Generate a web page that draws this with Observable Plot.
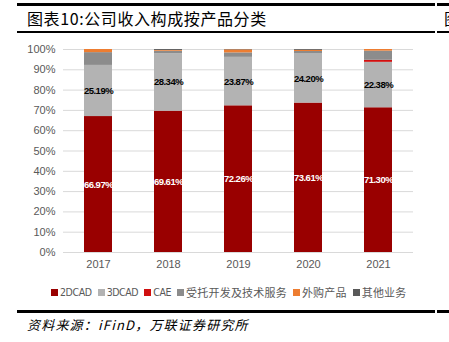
<!DOCTYPE html>
<html>
<head>
<meta charset="utf-8">
<script src="https://cdn.jsdelivr.net/npm/d3@7"></script>
<script src="https://cdn.jsdelivr.net/npm/@observablehq/plot@0.6"></script>
<style>
  html, body { margin: 0; padding: 0; background: #fff; }
  body { width: 449px; height: 342px; position: relative; overflow: hidden; font-family: "Noto Sans CJK SC", sans-serif; }
  .hline { position: absolute; left: 17px; width: 418px; background: #000; }
  .hline2 { position: absolute; left: 437px; width: 12px; background: #000; }
  #title { position: absolute; left: 27px; top: 6px; font-size: 16px; letter-spacing: 0.6px; color: #000; white-space: nowrap; }
  #caption { position: absolute; left: 27px; top: 315px; font-size: 13px; font-style: italic; letter-spacing: 1.2px; color: #000; white-space: nowrap; }
  #legend { position: absolute; left: 51px; top: 284px; display: flex; align-items: center; font-size: 11px; color: #595959; white-space: nowrap; }
  #legend .item { display: flex; align-items: center; margin-right: 6px; }
  #legend .sw { width: 7px; height: 7px; margin-right: 2px; }
  #legend .lat { font-family: "DejaVu Sans Condensed", "DejaVu Sans", sans-serif; font-stretch: condensed; font-size: 10.5px; letter-spacing: -0.4px; }
  #legend .cjk { font-size: 11px; letter-spacing: 0.2px; }
  #chart { position: absolute; left: 0; top: 0; }
</style>
</head>
<body>
<div class="hline" style="top:3px;height:2.5px"></div>
<div class="hline2" style="top:3px;height:2.5px"></div>
<div id="title">图表10:公司收入构成按产品分类</div>
<div style="position:absolute;left:444px;top:6px;font-size:16px;">图</div>
<div class="hline" style="top:31px;height:2px"></div>
<div class="hline2" style="top:31px;height:2px"></div>
<div id="chart"></div>
<div id="legend"></div>
<div class="hline" style="top:310px;height:2.5px"></div>
<div class="hline2" style="top:310px;height:2.5px"></div>
<div id="caption">资料来源：iFinD，万联证券研究所</div>
<script>
const years = ["2017", "2018", "2019", "2020", "2021"];
const seriesNames = ["2DCAD", "3DCAD", "CAE", "受托开发及技术服务", "外购产品", "其他业务"];
const seriesColors = ["#990000", "#b3b3b3", "#d01010", "#8c8c8c", "#ed7d31", "#595959"];
const v2DCAD = [66.97, 69.61, 72.26, 73.61, 71.30];
const v3DCAD = [25.19, 28.34, 23.87, 24.20, 22.38];
const vCAE = [0, 0, 0, 0, 1.0];
const vService = [6.3, 1.2, 2.2, 1.2, 4.5];
const vPurchased = [1.54, 0.4, 1.5, 0.6, 0.82];
const vOther = [0, 0.45, 0.17, 0.39, 0];
const yTicks = [0, 10, 20, 30, 40, 50, 60, 70, 80, 90, 100];
const labeled = ["2DCAD", "3DCAD"];

const valueArrays = [v2DCAD, v3DCAD, vCAE, vService, vPurchased, vOther];
const data = [];
years.forEach((yr, i) => {
  seriesNames.forEach((s, j) => {
    data.push({year: yr, series: s, value: valueArrays[j][i]});
  });
});

const chart = Plot.plot({
  width: 449,
  height: 342,
  marginTop: 49,
  marginBottom: 90,
  marginLeft: 63,
  marginRight: 36,
  style: {fontFamily: "Liberation Sans, Arial, sans-serif", fontSize: "11px", color: "#595959", background: "transparent"},
  x: {domain: years, paddingInner: 0.6, paddingOuter: 0.3, label: null, tickSize: 0, tickPadding: 8},
  y: {domain: [0, 100], ticks: yTicks, tickFormat: d => d + "%", label: null, tickSize: 0, tickPadding: 8},
  color: {domain: seriesNames, range: seriesColors},
  marks: [
    Plot.ruleY(yTicks, {stroke: "#d9d9d9", strokeWidth: 1}),
    Plot.barY(data, Plot.stackY({x: "year", y: "value", fill: "series", z: "series", order: seriesNames})),
    Plot.text(data, Plot.stackY({
      x: "year", y: "value", z: "series", order: seriesNames,
      text: d => labeled.includes(d.series) ? d.value.toFixed(2) + "%" : "",
      fill: d => d.series === "2DCAD" ? "white" : "black",
      fontSize: 9.5,
      fontFamily: "Liberation Sans, Arial, sans-serif",
      fontWeight: "bold"
    }))
  ]
});
chart.querySelectorAll('g[aria-label="text"] text').forEach(t => t.style.letterSpacing = "-0.5px");
document.getElementById("chart").appendChild(chart);

const legend = document.getElementById("legend");
seriesNames.forEach((s, j) => {
  const item = document.createElement("div");
  item.className = "item";
  const sw = document.createElement("div");
  sw.className = "sw";
  sw.style.background = seriesColors[j];
  const t = document.createElement("span");
  t.textContent = s;
  t.className = /^[A-Za-z0-9]+$/.test(s) ? "lat" : "cjk";
  item.appendChild(sw);
  item.appendChild(t);
  legend.appendChild(item);
});
</script>
</body>
</html>
